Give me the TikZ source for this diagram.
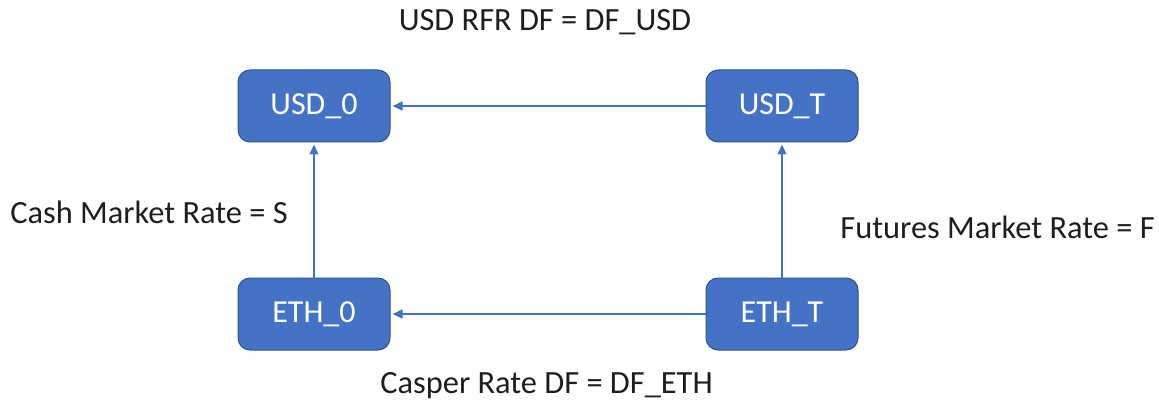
\documentclass[tikz,border=0pt]{standalone}
\usepackage{fontspec}
\setmainfont{Carlito}
\usetikzlibrary{arrows.meta, positioning, shapes}
\definecolor{boxblue}{RGB}{68, 114, 196}
\definecolor{boxedge}{RGB}{47, 82, 143}
\definecolor{txtgray}{RGB}{30, 30, 30}

\begin{document}
\begin{tikzpicture}[x=0.5pt,y=-0.5pt,
    ccy/.style={rectangle,rounded corners=6pt,fill=boxblue,draw=boxedge,line width=0.5pt,
      minimum width=76pt,minimum height=36pt,text=white,font=\fontsize{16}{18}\selectfont},
    lbl/.style={text=txtgray,font=\fontsize{16.2}{18}\selectfont,inner sep=0pt},
    flow/.style={-{Triangle[length=5pt,width=4.5pt]},boxblue,line width=0.6pt,shorten >=1pt}]
        \useasboundingbox (0,0) rectangle (1159,406);
        \node[ccy] (usd0) at (314,106) {USD\_0};
        \node[ccy] (usdT) at (782,106) {USD\_T};
        \node[ccy] (eth0) at (314,314) {ETH\_0};
        \node[ccy] (ethT) at (782,314) {ETH\_T};
        \draw[flow] (usdT) -- (usd0);
        \draw[flow] (ethT) -- (eth0);
        \draw[flow] (eth0) -- (usd0);
        \draw[flow] (ethT) -- (usdT);
        \node[lbl] (dfusd) at (545,22) {USD RFR DF = DF\_USD};
        \node[lbl,right] (cash) at (10,212) {Cash Market Rate = S};
        \node[lbl,right] (fut) at (840,227) {Futures Market Rate = F};
        \node[lbl,right] (dfeth) at (380,386) {Casper Rate DF = DF\_ETH};
      \end{tikzpicture}
\end{document}
